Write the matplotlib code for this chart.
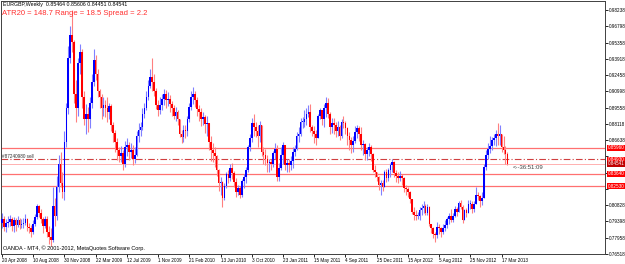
import matplotlib
matplotlib.use("Agg")
import matplotlib.pyplot as plt
import matplotlib.transforms as mtransforms

# EURGBP weekly, one bar per week starting 20 Apr 2008
first_open = 0.7930
closes = [
    .7960, .7890, .7930, .7940, .7960, .7900, .7950, .7910, .7950, .7910,
    .7920, .7930, .7960, .7890, .7880, .7850, .7920, .7980, .8080, .8020,
    .7960, .7900, .7960, .7850, .7800, .7780, .8080, .7990, .8250, .8450,
    .8280, .8200, .8650, .8950, .9400, .9600, .9540, .9080, .8950, .9350,
    .9450, .9050, .8850, .8900, .8850, .9000, .9180, .9380, .9250, .9100,
    .9050, .8950, .8980, .8950, .8920, .8970, .8800, .8730, .8650, .8580,
    .8520, .8550, .8450, .8600, .8620, .8560, .8580, .8500, .8530, .8700,
    .8760, .8780, .8900, .8950, .9050, .9150, .9230, .9180, .9100, .8980,
    .8930, .8980, .9030, .9080, .9020, .9030, .8990, .8950, .8880, .8920,
    .8850, .8720, .8690, .8760, .8750, .8850, .8960, .9050, .9080, .9020,
    .8940, .8920, .8850, .8870, .8810, .8820, .8650, .8580, .8550, .8520,
    .8400, .8280, .8290, .8150, .8260, .8360, .8330, .8420, .8370, .8290,
    .8200, .8240, .8180, .8300, .8340, .8400, .8600, .8680, .8820, .8780,
    .8750, .8700, .8800, .8560, .8530, .8500, .8460, .8470, .8450, .8550,
    .8590, .8340, .8420, .8530, .8620, .8440, .8460, .8440, .8480, .8560,
    .8590, .8700, .8720, .8830, .8830, .8850, .8900, .8920, .8780, .8750,
    .8720, .8680, .8880, .8930, .8850, .8950, .9000, .8900, .8780, .8820,
    .8800, .8750, .8780, .8700, .8830, .8820, .8770, .8700, .8670, .8620,
    .8660, .8740, .8770, .8720, .8620, .8630, .8540, .8580, .8600, .8540,
    .8400, .8380, .8340, .8270, .8280, .8250, .8380, .8330, .8400, .8440,
    .8470, .8370, .8350, .8330, .8350, .8330, .8240, .8230, .8200, .8140,
    .8030, .8000, .7990, .7990, .8040, .8060, .8080, .8020, .8070, .7920,
    .7880, .7830, .7820, .7890, .7880, .7850, .7880, .7910, .7960, .7990,
    .7950, .7990, .8050, .8030, .8110, .8070, .7950, .8040, .8020, .8100,
    .8100, .8050, .8100, .8180, .8170, .8120, .8150, .8430, .8530, .8590,
    .8610, .8670, .8680, .8720, .8700, .8720, .8600, .8580, .8546, .8454,
]
highs = [
    .8020, .7990, .7960, .7990, .8000, .7980, .7980, .7970, .7990, .7970,
    .7960, .7970, .8010, .7970, .7930, .7910, .7950, .8010, .8100, .8090,
    .8050, .7980, .7990, .7990, .7900, .7880, .8250, .8150, .8350, .8530,
    .8560, .8380, .8750, .9000, .9500, .9680, .9820, .9560, .9200, .9400,
    .9520, .9480, .9100, .8990, .8960, .9050, .9250, .9480, .9420, .9300,
    .9120, .9080, .9050, .9020, .9050, .9000, .8990, .8830, .8760, .8680,
    .8600, .8610, .8580, .8660, .8680, .8650, .8640, .8620, .8600, .8750,
    .8820, .8830, .8950, .9000, .9100, .9200, .9300, .9400, .9250, .9130,
    .9020, .9050, .9080, .9120, .9110, .9090, .9070, .9010, .8980, .8960,
    .8930, .8850, .8760, .8800, .8800, .8880, .9000, .9100, .9140, .9100,
    .9050, .8980, .8950, .8920, .8890, .8880, .8800, .8700, .8640, .8600,
    .8530, .8410, .8340, .8300, .8280, .8380, .8400, .8450, .8460, .8390,
    .8330, .8270, .8260, .8320, .8360, .8430, .8620, .8720, .8860, .8900,
    .8830, .8800, .8840, .8800, .8600, .8590, .8530, .8500, .8500, .8570,
    .8640, .8620, .8460, .8600, .8650, .8610, .8500, .8500, .8520, .8600,
    .8620, .8740, .8780, .8860, .8870, .8930, .8950, .8980, .8990, .8800,
    .8790, .8760, .8900, .8950, .8930, .8990, .9050, .9040, .8920, .8860,
    .8860, .8830, .8840, .8800, .8850, .8880, .8840, .8780, .8740, .8690,
    .8700, .8790, .8800, .8790, .8780, .8670, .8640, .8600, .8640, .8620,
    .8550, .8440, .8380, .8350, .8310, .8310, .8400, .8410, .8420, .8460,
    .8500, .8480, .8400, .8380, .8390, .8360, .8340, .8270, .8250, .8210,
    .8140, .8070, .8040, .8030, .8070, .8100, .8120, .8100, .8100, .8080,
    .7920, .7890, .7850, .7940, .7920, .7890, .7920, .7950, .7980, .8020,
    .8050, .8020, .8080, .8070, .8120, .8130, .8090, .8050, .8060, .8130,
    .8130, .8120, .8120, .8250, .8200, .8180, .8200, .8450, .8580, .8640,
    .8700, .8690, .8720, .8760, .8815, .8800, .8720, .8700, .8610, .8561,
]
lows = [
    .7880, .7860, .7850, .7890, .7900, .7860, .7850, .7860, .7890, .7870,
    .7880, .7880, .7910, .7860, .7840, .7800, .7830, .7900, .7960, .7980,
    .7930, .7840, .7880, .7800, .7740, .7720, .7760, .7900, .7950, .8200,
    .8250, .8150, .8130, .8600, .8900, .9350, .9450, .9000, .8830, .8880,
    .9250, .8950, .8800, .8720, .8740, .8770, .8950, .9150, .9200, .9050,
    .8950, .8850, .8880, .8870, .8830, .8850, .8750, .8650, .8560, .8490,
    .8470, .8470, .8400, .8430, .8520, .8490, .8510, .8440, .8460, .8520,
    .8650, .8700, .8760, .8860, .8930, .9020, .9130, .9100, .9060, .8940,
    .8880, .8900, .8930, .8980, .8950, .8970, .8920, .8880, .8850, .8840,
    .8800, .8690, .8640, .8650, .8680, .8700, .8830, .8930, .8990, .8960,
    .8880, .8840, .8790, .8800, .8730, .8700, .8580, .8480, .8470, .8430,
    .8350, .8210, .8180, .8070, .8130, .8240, .8280, .8300, .8320, .8250,
    .8160, .8180, .8150, .8160, .8240, .8280, .8380, .8570, .8650, .8700,
    .8690, .8600, .8650, .8520, .8450, .8440, .8380, .8380, .8400, .8430,
    .8500, .8300, .8300, .8400, .8450, .8400, .8380, .8380, .8400, .8420,
    .8520, .8580, .8650, .8700, .8770, .8780, .8800, .8870, .8740, .8700,
    .8640, .8620, .8680, .8850, .8800, .8780, .8870, .8860, .8720, .8730,
    .8720, .8690, .8700, .8670, .8680, .8770, .8720, .8620, .8580, .8550,
    .8560, .8640, .8680, .8660, .8580, .8530, .8490, .8490, .8520, .8480,
    .8380, .8340, .8300, .8220, .8180, .8210, .8250, .8290, .8300, .8340,
    .8380, .8340, .8290, .8280, .8300, .8270, .8200, .8180, .8160, .8110,
    .8010, .7950, .7950, .7960, .7950, .8000, .8020, .8000, .8000, .7900,
    .7840, .7790, .7755, .7790, .7830, .7800, .7830, .7860, .7880, .7920,
    .7940, .7940, .7980, .7990, .8040, .8050, .7930, .7950, .7980, .8030,
    .8050, .8020, .8030, .8100, .8130, .8070, .8090, .8150, .8400, .8500,
    .8550, .8580, .8620, .8610, .8620, .8620, .8560, .8540, .8450, .8445,
]

date_labels = ["20 Apr 2008", "10 Aug 2008", "30 Nov 2008", "22 Mar 2009", "12 Jul 2009",
               "1 Nov 2009", "21 Feb 2010", "13 Jun 2010", "3 Oct 2010", "23 Jan 2011",
               "15 May 2011", "4 Sep 2011", "25 Dec 2011", "15 Apr 2012", "5 Aug 2012",
               "25 Nov 2012", "17 Mar 2013"]
# the scale labels hidden behind the red price tags are left blank
price_labels = ["0.98238", "0.96798", "0.95358", "0.93918", "0.92458", "0.90998",
                "0.89558", "0.88118", "0.86638", "", "", "",
                "0.80828", "0.79398", "0.77958", "0.76518"]

# horizontal levels drawn on the chart and their tags on the price scale
levels = [0.8596, 0.8364, 0.8253]
level_tags = ["0.85960", "0.83640", "0.82530"]
order_price = 0.8493
order_tag = "0.84930"
bid_price = 0.84541
bid_tag = "0.84541"

header = "EURGBP,Weekly  0.85464 0.85606 0.84451 0.84541"
atr_text = "ATR20 = 148.7 Range = 18.5 Spread = 2.2"

plt.rcParams['font.family'] = ['Liberation Sans', 'DejaVu Sans']

fig = plt.figure(figsize=(6.25, 2.64), dpi=100)
ax = fig.add_axes([0.0016, 0.0379, 0.9664, 0.9583])

n = len(closes)
xs = list(range(n))
opens = [first_open] + closes[:-1]
for i in xs:
    o, c = opens[i], closes[i]
    h = max(highs[i], o, c)
    l = min(lows[i], o, c)
    up = c >= o
    wick = "#8080ff" if up else "#ff8080"
    body = "#0000ff" if up else "#ff0000"
    ax.vlines(i, l, h, color=wick, linewidth=0.8, zorder=2)
    ax.bar(i, max(abs(c - o), 0.0006), bottom=min(o, c), width=0.85,
           color=body, linewidth=0, zorder=3)

for lv in levels:
    ax.axhline(lv, color="#ff7070", linewidth=0.9, zorder=1)
ax.axhline(bid_price, color="#ffb0b0", linewidth=0.7, zorder=1)
ax.axhline(order_price, color="#d04040", linewidth=0.8, linestyle=(0, (6, 2, 1, 2)), zorder=1)

ax.set_xlim(-0.5, 309)
y_top = 0.99039
y_bot = 0.76518
ax.set_ylim(y_bot, y_top)
step = (0.98238 - 0.76518) / 15
ax.set_yticks([0.98238 - k * step for k in range(16)])
ax.set_yticklabels(price_labels)
ax.yaxis.tick_right()
ax.set_xticks([k * 16 for k in range(len(date_labels))])
ax.set_xticklabels(date_labels, ha="left")
ax.tick_params(axis="both", labelsize=3.3, length=2, width=0.6, pad=1, colors="black")
for sp in ax.spines.values():
    sp.set_linewidth(0.7)
    sp.set_color("#404040")

# price tags on the right scale
tr = mtransforms.blended_transform_factory(ax.transAxes, ax.transData)
tag_box = dict(boxstyle="square,pad=0.1", fc="#ff0000", ec="none")
for lv, tag in zip(levels, level_tags):
    ax.text(1.004, lv, tag, transform=tr, fontsize=3.3, color="white", va="center", ha="left",
            bbox=tag_box, clip_on=False)
ax.text(1.004, order_price, order_tag, transform=tr, fontsize=3.3, color="white", va="center",
        ha="left", bbox=tag_box, clip_on=False)
ax.text(1.004, bid_price, bid_tag, transform=tr, fontsize=3.3, color="white", va="center",
        ha="left", bbox=dict(boxstyle="square,pad=0.1", fc="#c00000", ec="none"), clip_on=False)

ax.text(0.004, 0.997, header, transform=ax.transAxes, fontsize=3.8, va="top", ha="left")
ax.text(0.002, 0.965, atr_text, transform=ax.transAxes, fontsize=5.5, va="top", ha="left",
        color="#ff3030")
ax.text(0.004, order_price + 0.0008, "#87240980 sell", fontsize=3.3, va="bottom", ha="left",
        color="#303030")
ax.text(n + 1.5, bid_price - 0.003, "<--36:51:09", fontsize=4.3, va="center", ha="left",
        color="#404040")
ax.text(0.004, 0.012, "OANDA - MT4, \u00a9 2001-2012, MetaQuotes Software Corp.",
        transform=ax.transAxes, fontsize=4, va="bottom", ha="left")

fig.savefig("out.png", dpi=100, facecolor="white")
